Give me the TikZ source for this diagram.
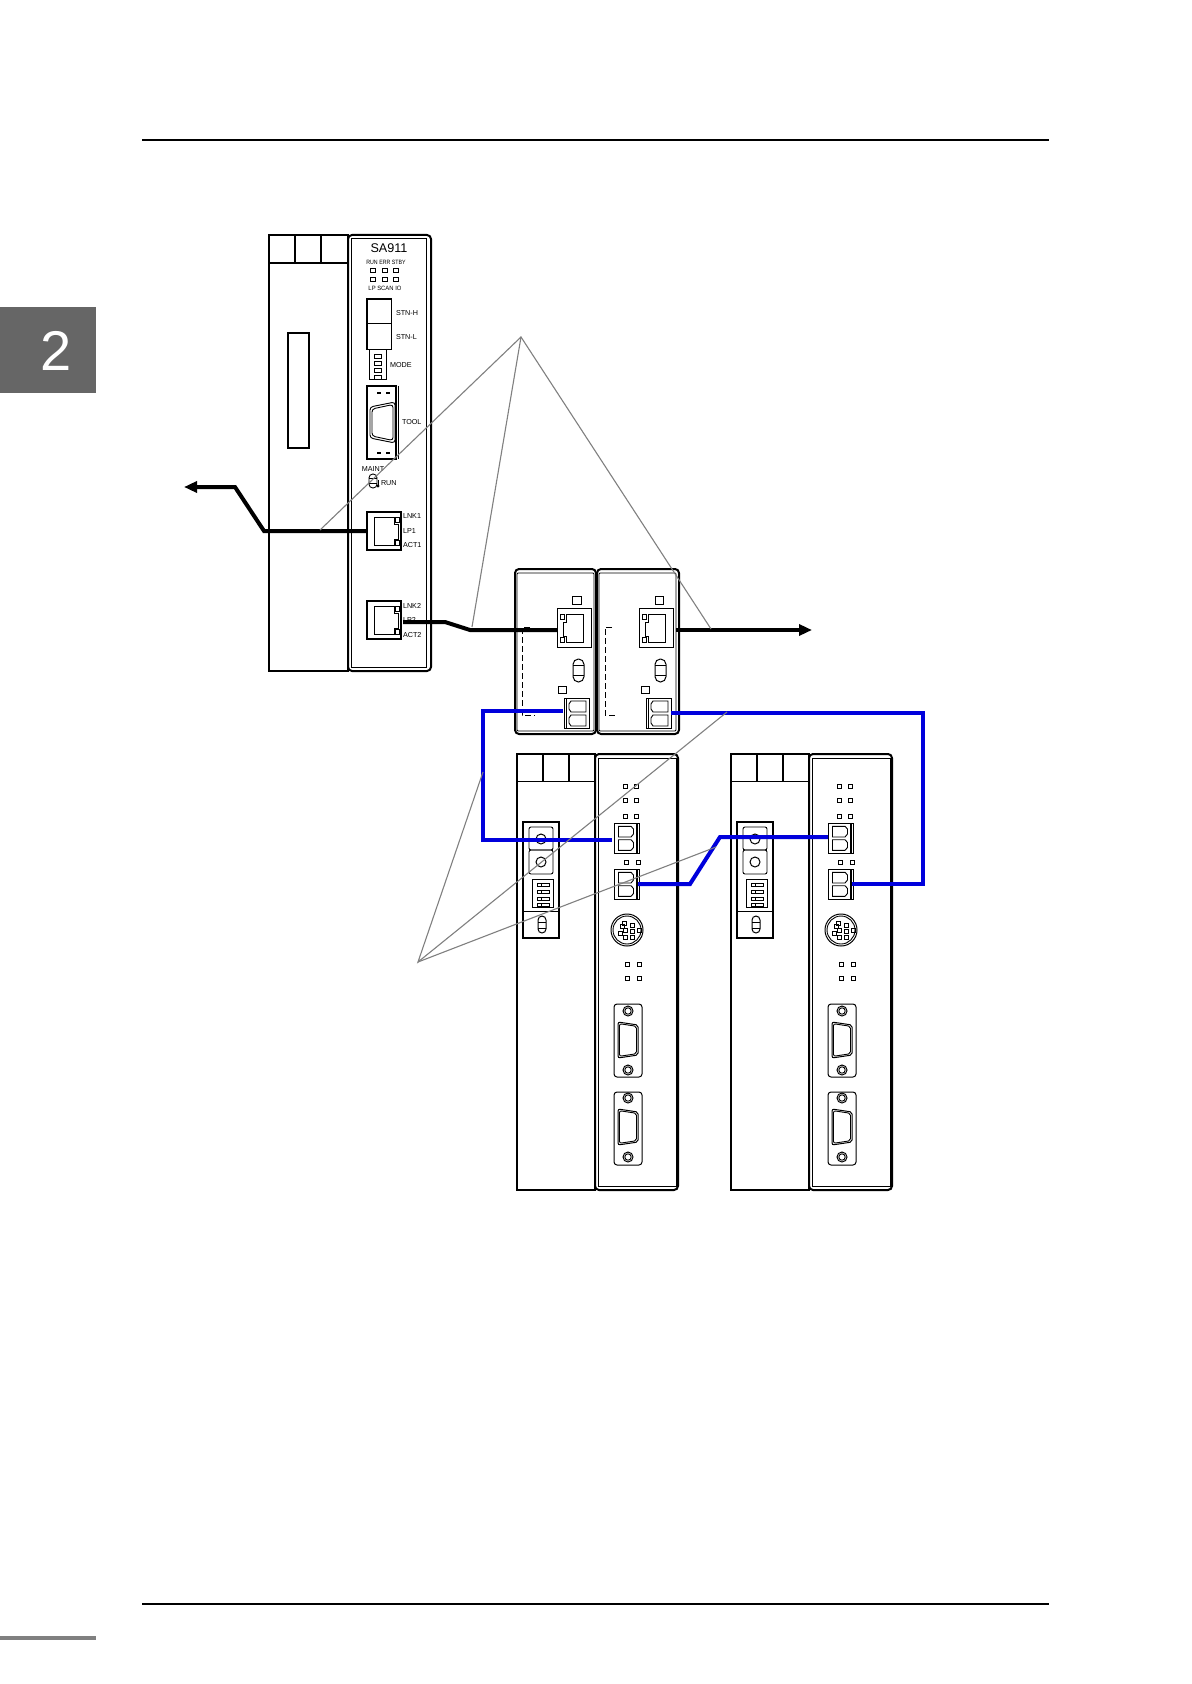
\documentclass[tikz,border=0pt]{standalone}
\usepackage{fontspec}
\setmainfont{Liberation Sans}
\usetikzlibrary{arrows.meta}
\definecolor{cableblue}{RGB}{0,0,220}
\definecolor{leadergrey}{RGB}{128,128,128}
\definecolor{tabgrey}{RGB}{102,102,102}
\newcommand{\labelsize}{\fontsize{3.6}{4}\selectfont}
\tikzset{
  x=0.5pt,y=-0.5pt,
  body/.style={draw=black,line width=1pt,fill=white},
  panel/.style={draw=black,line width=1pt,rounded corners=2pt},
  thin part/.style={draw=black,line width=0.5pt},
  led/.style={draw=black,line width=0.45pt},
  lab/.style={inner sep=0pt,outer sep=0pt,font=\labelsize,anchor=west},
  labc/.style={inner sep=0pt,outer sep=0pt,font=\labelsize,anchor=center},
  black cable/.style={draw=black,line width=2pt,line join=miter},
  blue cable/.style={draw=cableblue,line width=2pt,line join=miter},
  leader/.style={draw=leadergrey,line width=0.55pt},
  rule line/.style={draw=black,line width=0.75pt},
  terminalR/.pic={
    \draw[thin part] (0,0) rectangle (25,30);
    \draw[thin part,line width=.7pt] (23,0) -- (23,30);
    \draw[led] (4.5,3.3) -- (17,3.3) -- (19.5,6) -- (19.5,11) -- (17,14) -- (4.5,14) -- cycle;
    \draw[led] (4.5,16.7) -- (17,16.7) -- (19.5,19.5) -- (19.5,24.5) -- (17,27.3) -- (4.5,27.3) -- cycle;
  },
  terminalL/.pic={
    \draw[thin part] (0,0) rectangle (25,30);
    \draw[led] (2,0) -- (2,30);
    \draw[led] (5,6) -- (7,3) -- (22,3) -- (22,14) -- (7,14) -- (5,11) -- cycle;
    \draw[led] (5,20) -- (7,17) -- (22,17) -- (22,28) -- (7,28) -- (5,25) -- cycle;
  },
  dsub/.pic={
    \draw[thin part,rounded corners=1pt] (0,0) -- (20,3) -- (20,33) -- (0,36) -- cycle;
    \draw[led,rounded corners=1pt] (1.5,1.7) -- (18.5,4.3) -- (18.5,31.7) -- (1.5,34.3) -- cycle;
  },
  capsule/.pic={
    \draw[thin part,rounded corners=2.7pt] (0,0) rectangle (11,23);
    \draw[thin part] (0,6) -- (11,6) (0,16) -- (11,16);
  },
  rj/.pic={
    \draw[thin part] (0,0) rectangle (34,39);
    \draw[thin part] (9,6) -- (26,6) -- (26,34) -- (9,34) -- (9,28) -- (6,28) -- (6,14) -- (9,14) -- cycle;
    \draw[led,fill=white] (3,6) rectangle (7,11);
    \draw[led,fill=white] (3,29) rectangle (7,34);
  },
  rjside/.pic={
    \draw[thin part,line width=.7pt] (0,0) rectangle (34,38);
    \draw[thin part] (7,5) -- (27,5) -- (27,12) -- (31,12) -- (31,27) -- (27,27) -- (27,33) -- (7,33) -- cycle;
    \draw[led,fill=white] (28,5) rectangle (32,10);
    \draw[led,fill=white] (28,28) rectangle (32,33);
  },
  smallcap/.pic={
    \draw[thin part,rounded corners=2pt] (0,0) rectangle (8,17);
    \draw[thin part] (0,6) -- (8,6) (0,12) -- (8,12);
  },
  lowermod/.pic={
    \draw[body] (517,754) rectangle (595,1190);
    \draw[thin part] (517,781) -- (595,781);
    \draw[body] (543,754) -- (543,781) (569,754) -- (569,781);
    \draw[panel,fill=white] (595,754) rectangle (678,1190);
    \draw[led] (598,758) rectangle (676,1186);
    \draw[thin part,line width=.7pt] (523,822) rectangle (559,938);
    \draw[thin part] (523,911) -- (559,911);
    \draw[led,rounded corners=1pt] (529,827) rectangle (553,850);
    \draw[led,rounded corners=1pt] (529,850) rectangle (553,874);
    \draw[thin part] (541,839) circle[radius=2.5pt];
    \draw[thin part] (541,862) circle[radius=2.5pt];
    \draw[led] (532,879) rectangle (553,907);
    \foreach \yy in {883,890,897,903}{
      \draw[line width=.35pt] (537,\yy) rectangle (549,\yy+3);
      \draw[line width=.35pt] (541,\yy) -- (541,\yy+3);
    }
    \pic at (538,916) {smallcap};
    \foreach \xx/\yy in {625/786,636/786,625/800,636/800,625/816,636/816,626/862,638/862,627/964,639/964,627/978,639/978}{
      \draw[led] (\xx-2,\yy-2) rectangle (\xx+2,\yy+2);
    }
    \pic at (614,823) {terminalR};
    \pic at (614,869) {terminalR};
    \draw[thin part] (627,930) circle[radius=8pt];
    \draw[led] (627,930) circle[radius=7pt];
    \foreach \xx/\yy in {-2.3/-6.7,5/-5,-4.7/-3.3,-2/0.3,5/1.3,12/0.3,-6.7/3.3,-2/7,5/7}{
      \draw[line width=.4pt] (627+\xx-2,930+\yy-2) rectangle (627+\xx+2,930+\yy+2);
    }
    \foreach \yy/\hb/\hc/\ds in {1004/1011/1070/1022,1092/1098/1157/1109}{
      \draw[thin part,rounded corners=1.5pt] (614,\yy) rectangle (642,\yy+73);
      \draw[thin part] (628,\hb) circle[radius=2.5pt];
      \draw[led] (628,\hb) circle[radius=1.6pt];
      \draw[thin part] (628,\hc) circle[radius=2.5pt];
      \draw[led] (628,\hc) circle[radius=1.6pt];
      \pic at (618,\ds) {dsub};
    }
  }
}
\begin{document}
\begin{tikzpicture}
\useasboundingbox (0,0) rectangle (1191,1684);
\fill[white] (0,0) rectangle (1191,1684);

\coordinate (ruleTL) at (142,140); \coordinate (ruleTR) at (1049,140);
\coordinate (ruleBL) at (142,1604); \coordinate (ruleBR) at (1049,1604);
\draw[rule line] (ruleTL) -- (ruleTR);
\draw[rule line] (ruleBL) -- (ruleBR);
\fill[tabgrey] (0,307) rectangle (96,393);
\node[inner sep=0pt,text=white,font=\fontsize{28}{30}\selectfont] (chapter) at (56,351) {2};
\fill[leadergrey] (0,1636) rectangle (96,1640);

\draw[body] (269,235) rectangle (348,671);
\draw[thin part,line width=.8pt] (269,263) -- (348,263);
\draw[body] (295,235) -- (295,263) (321,235) -- (321,263);
\draw[panel,fill=white] (348,235) rectangle (431,671);
\draw[led] (351,238) rectangle (426,667);
\draw[thin part,line width=.75pt] (288,333) rectangle (309,448);
\node[inner sep=0pt,font=\fontsize{6.3}{7}\selectfont] (title) at (389,248) {SA911};
\node[labc,font=\fontsize{3.1}{4}\selectfont,xscale=.85] (runleds) at (386,262) {RUN ERR STBY};
\node[labc,font=\fontsize{3.1}{4}\selectfont,xscale=.95] (lowleds) at (385,288) {LP SCAN IO};
\foreach \xx in {373,385,396}{
  \draw[led] (\xx-2.2,268) rectangle (\xx+2.2,272.4);
  \draw[led] (\xx-2.2,277) rectangle (\xx+2.2,281.4);
}
\draw[thin part] (367,299) rectangle (391,350);
\draw[thin part,line width=.9pt] (391,299) -- (367,299) -- (367,350);
\draw[thin part] (367,324) -- (391,324);
\node[lab] (stnh) at (396,313) {STN-H};
\node[lab] (stnl) at (396,337) {STN-L};
\draw[thin part] (369,350) rectangle (386,380);
\foreach \yy in {354,361,368,375}{\draw[led] (374,\yy) rectangle (381,\yy+4);}
\node[lab] (mode) at (390,365) {MODE};
\draw[thin part,line width=.7pt] (367,386) rectangle (396,459);
\draw[led] (398,386) -- (398,459);
\draw[led,rounded corners=1.5pt] (370,407) -- (395,402) -- (395,443) -- (370,438) -- cycle;
\draw[led,rounded corners=1.5pt] (372,409) -- (393,404.5) -- (393,440.5) -- (372,436) -- cycle;
\foreach \yy in {393,453}{
  \draw[thin part,line width=.7pt] (377,\yy) -- (381,\yy) (386,\yy) -- (390,\yy);
}
\node[lab] (tool) at (402,422) {TOOL};
\node[labc] (maint) at (373,469) {MAINT};
\draw[led,rounded corners=1.9pt] (369,474) rectangle (377,488);
\draw[led] (369,478) -- (377,478) (369,483) -- (377,483);
\draw[led] (378,480) -- (378,486);
\fill (378,486) circle[radius=.8pt];
\node[lab] (run) at (381,483) {RUN};
\pic at (367,512) {rjside};
\node[lab] (lnka) at (403,516) {LNK1};
\node[lab] (lpa) at (403,531) {LP1};
\node[lab] (acta) at (403,545) {ACT1};
\pic at (367,601) {rjside};
\node[lab] (lnkb) at (403,606) {LNK2};
\node[lab] (lpb) at (403,620) {LP2};
\node[lab] (actb) at (403,635) {ACT2};

\draw[panel] (515,569) rectangle (596,734);
\draw[led,rounded corners=.5pt] (517,573) rectangle (594,731);
\draw[panel] (597,569) rectangle (679,734);
\draw[led,rounded corners=.5pt] (599,573) rectangle (676,731);
\draw[led] (572,596) rectangle (581,604);
\draw[led] (655,596) rectangle (663,604);
\pic at (557,608) {rj};
\pic at (639,608) {rj};
\pic at (573,659) {capsule};
\pic at (655,659) {capsule};
\draw[led] (558,686.5) rectangle (566,693.5);
\draw[led] (641,686.5) rectangle (649,693.5);
\pic at (564,698) {terminalL};
\pic at (646,698) {terminalL};
\draw[thin part,dash pattern=on 3pt off 1.5pt,line width=.45pt] (530,627) -- (522,627) -- (522,715) -- (535,715);
\draw[thin part,dash pattern=on 3pt off 1.5pt,line width=.45pt] (612,627) -- (605,627) -- (605,715) -- (617,715);

\pic at (0,0) {lowermod};
\pic at (214,0) {lowermod};

\coordinate (out1) at (184,487);
\coordinate (out1a) at (235,487);
\coordinate (out1b) at (264,531);
\coordinate (port1) at (367,531);
\coordinate (port2) at (403,622);
\coordinate (c2a) at (445,622);
\coordinate (c2b) at (470,630);
\coordinate (rjA) at (557,630);
\coordinate (rjB) at (676,630);
\coordinate (out2) at (812,630);
\coordinate (termA) at (563,711);
\coordinate (b1a) at (483,711);
\coordinate (b1b) at (483,840);
\coordinate (term1) at (612,840);
\coordinate (term2) at (638,884);
\coordinate (b2a) at (690,884);
\coordinate (b2b) at (720,837);
\coordinate (term3) at (828,837);
\coordinate (termB) at (671,713);
\coordinate (b3a) at (923,713);
\coordinate (b3b) at (923,884);
\coordinate (term4) at (852,884);

\draw[black cable,-{Triangle[length=6.5pt,width=5.5pt]}] (port1) -- (out1b) -- (out1a) -- (out1);
\draw[black cable] (port2) -- (c2a) -- (c2b) -- (rjA);
\draw[black cable,-{Triangle[length=6.5pt,width=5.5pt]}] (rjB) -- (out2);
\draw[blue cable] (termA) -- (b1a) -- (b1b) -- (term1);
\draw[blue cable] (term2) -- (b2a) -- (b2b) -- (term3);
\draw[blue cable] (termB) -- (b3a) -- (b3b) -- (term4);

\coordinate (apexT) at (521,337);
\coordinate (apexB) at (418,962);
\coordinate (leadA) at (320,530);
\coordinate (leadB) at (472,627);
\coordinate (leadC) at (711,629);
\coordinate (leadD) at (483,772);
\coordinate (leadE) at (727,712);
\coordinate (leadF) at (716,847);
\draw[leader] (leadA) -- (apexT) -- (leadC);
\draw[leader] (apexT) -- (leadB);
\draw[leader] (leadD) -- (apexB) -- (leadE);
\draw[leader] (apexB) -- (leadF);
\end{tikzpicture}
\end{document}
